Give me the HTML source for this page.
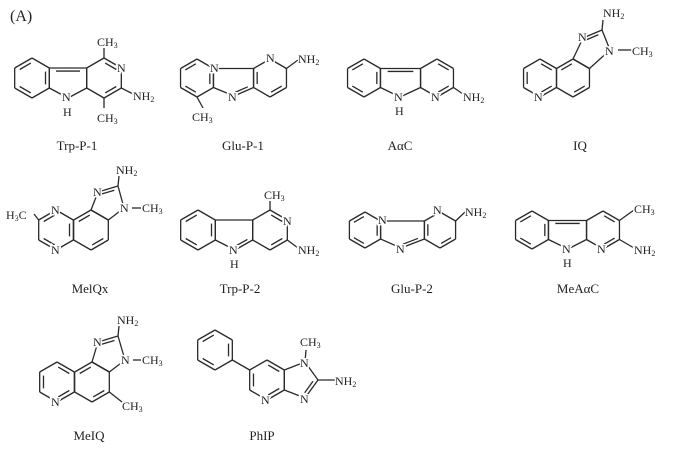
<!DOCTYPE html>
<html><head><meta charset="utf-8"><style>
html,body{margin:0;padding:0;background:#fff}
svg{display:block}
text{font-family:"Liberation Serif",serif;fill:#222}
.a{font-size:12px;stroke:#fff;stroke-width:3px;paint-order:stroke}
.n{font-size:13px;text-anchor:middle}
</style></head><body>
<svg id="s" width="688" height="456" viewBox="0 0 688 456" xmlns="http://www.w3.org/2000/svg">
<g id="g" stroke="#2a2a2a" stroke-width="1.3" fill="none"></g>
<g id="t"></g>
</svg>
<script>
var G=document.getElementById('g'),T=document.getElementById('t');
var NS='http://www.w3.org/2000/svg';
function L(x1,y1,x2,y2){var e=document.createElementNS(NS,'line');e.setAttribute('x1',x1);e.setAttribute('y1',y1);e.setAttribute('x2',x2);e.setAttribute('y2',y2);G.appendChild(e);}
function P(pts){for(var i=0;i<pts.length;i++){var a=pts[i],b=pts[(i+1)%pts.length];L(a[0],a[1],b[0],b[1]);}}
function inner(a,b,c){
 var f=0.22,mx=(a[0]+b[0])/2,my=(a[1]+b[1])/2;
 var dx=(c[0]-mx)*f,dy=(c[1]-my)*f;var s=0.18;
 var ax=a[0]+(b[0]-a[0])*s+dx,ay=a[1]+(b[1]-a[1])*s+dy,bx=b[0]+(a[0]-b[0])*s+dx,by=b[1]+(a[1]-b[1])*s+dy;L(ax,ay,bx,by);}
function hv(cx,cy,r){var v=[];for(var i=0;i<6;i++){var an=(-90+60*i)*Math.PI/180;v.push([cx+r*Math.cos(an),cy+r*Math.sin(an)]);}return v;}
function H(cx,cy,r,dbl){var v=hv(cx,cy,r);P(v);(dbl||[]).forEach(function(i){inner(v[i],v[(i+1)%6],[cx,cy]);});return v;}
function X(x,y,s,cls,anc){var e=document.createElementNS(NS,'text');e.setAttribute('x',x);e.setAttribute('y',y);e.setAttribute('class',cls||'a');if(anc)e.setAttribute('text-anchor',anc);e.innerHTML=s;T.appendChild(e);}
var CH3='CH<tspan font-size="8" dy="2">3</tspan>',NH2='NH<tspan font-size="8" dy="2">2</tspan>',H3C='H<tspan font-size="8" dy="2">3</tspan><tspan dy="-2">C</tspan>';
function pent(a,b,c,d,e,dbl){var p=[a,b,c,d,e];P(p);var cx=0,cy=0;p.forEach(function(q){cx+=q[0]/5;cy+=q[1]/5});(dbl||[]).forEach(function(i){inner(p[i],p[(i+1)%5],[cx,cy]);});}

X(10,21,'(A)','n" text-anchor="start');
var a,b;
a=H(32,78,20,[1,3,5]);b=H(104,78,20,[0,2]);
pent(a[1],b[5],b[4],[68,98],a[2],[0]);
L(104,58,104,48);L(b[2][0],b[2][1],133,94);L(104,98,104,108);
X(97,46,CH3);X(117,72,'N');X(133,100,NH2);X(62,101,'N');X(63,116,'H');X(97,122,CH3);
X(77,150,'Trp-P-1','n');
a=H(197,78,19,[1,3,5]);b=H(270,78,19,[2,4]);
pent(a[1],b[5],b[4],[234,96],a[2],[2]);
L(b[1][0],b[1][1],298,60);L(a[3][0],a[3][1],203,108);
X(210,72,'N');X(228,101,'N');X(266,62,'N');X(298,63,NH2);X(192,121,CH3);
X(243,150,'Glu-P-1','n');
a=H(364,78,19,[1,3,5]);b=H(437,78,19,[0,2]);
pent(a[1],b[5],b[4],[400,97],a[2],[0]);
L(b[2][0],b[2][1],463,94);
X(394,101,'N');X(395,115,'H');X(431,101,'N');X(463,101,NH2);
X(400,150,'A&#945;C','n');
a=H(540,78,19,[0,2,4]);b=H(573,78,19,[2,5]);
pent(b[0],[583,38],[602,30],[610,50],b[1],[1]);
L(602,30,603,20);L(618,50,632,50);
X(534,101,'N');X(578,41,'N');X(603,17,NH2);X(605,55,'N');X(632,55,CH3);
X(580,150,'IQ','n');
a=H(56,230,20,[1,3,5]);b=H(91,230,20,[2,5]);
pent(b[0],[98,192],[118,186],[124,208],b[1],[1]);
L(a[5][0],a[5][1],34,214);L(118,186,119,176);L(132,208,142,208);
X(51,214,'N');X(51,254,'N');X(6,219,H3C);X(93,196,'N');X(116,174,NH2);X(120,212,'N');X(142,212,CH3);
X(90,293,'MelQx','n');
a=H(198,230,20,[1,3,5]);b=H(270,230,20,[0,2]);
pent(a[1],b[5],b[4],[235,250],a[2],[2]);
L(270,210,270,201);L(b[2][0],b[2][1],298,248);
X(264,199,CH3);X(283,225,'N');X(229,254,'N');X(230,268,'H');X(298,254,NH2);
X(240,293,'Trp-P-2','n');
a=H(365,230,18,[1,3,5]);b=H(440,230,18,[2,4]);
pent(a[1],b[5],b[4],[401,248],a[2],[2]);
L(b[1][0],b[1][1],465,212);
X(378,224,'N');X(396,253,'N');X(433,214,'N');X(465,216,NH2);
X(412,293,'Glu-P-2','n');
a=H(532,230,19,[1,3,5]);b=H(603,230,19,[0,2]);
pent(a[1],b[5],b[4],[568,249],a[2],[0]);
L(b[1][0],b[1][1],634,210);L(b[2][0],b[2][1],634,248);
X(562,253,'N');X(563,267,'H');X(597,253,'N');X(634,213,CH3);X(634,254,NH2);
X(578,293,'MeA&#945;C','n');
a=H(57,382,20,[0,2,4]);b=H(92,382,20,[2,5]);
pent(b[0],[98,342],[118,336],[125,360],b[1],[1]);
L(118,336,119,326);L(133,360,142,360);L(b[2][0],b[2][1],122,402);
X(51,406,'N');X(93,346,'N');X(117,324,NH2);X(121,364,'N');X(142,364,CH3);X(122,410,CH3);
X(89,440,'MeIQ','n');
a=H(215,350,20,[1,3,5]);b=H(267,380,20,[2,4,0]);
L(a[2][0],a[2][1],b[5][0],b[5][1]);
pent(b[1],[305,362],[318,380],[305,398],b[2],[2]);
L(305,362,306,350);L(318,380,335,380);
X(261,404,'N');X(300,367,'N');X(300,346,CH3);X(335,385,NH2);X(300,403,'N');
X(262,440,'PhIP','n');
</script>
</body></html>
